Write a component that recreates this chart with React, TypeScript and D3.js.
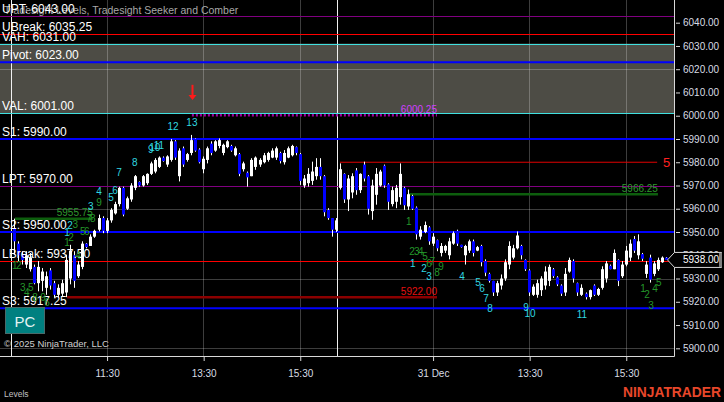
import * as React from 'react';
import * as d3 from 'd3';

// 5 minute bars, day 1 (0-80) and 31 Dec (81-162)
const barOpen = [
  5951.75, 5945, 5940, 5936, 5934, 5935, 5928, 5929, 5926, 5933.5,
  5928, 5923, 5923.5, 5924, 5930, 5940, 5931, 5935, 5945, 5944,
  5948, 5951, 5956, 5950.5, 5955, 5958, 5962, 5969, 5960, 5964,
  5969, 5971.5, 5970, 5971, 5975, 5976, 5978, 5982, 5979, 5981,
  5989, 5974, 5986, 5981, 5984, 5990, 5985.5, 5977, 5981, 5988,
  5985, 5987, 5984, 5986.5, 5987, 5983, 5983.5, 5977, 5975.5, 5974,
  5978, 5979, 5980, 5981, 5982, 5982, 5984, 5980, 5982, 5983,
  5986.5, 5983.5, 5970, 5971, 5972, 5974, 5978, 5974, 5959.5, 5956,
  5951,
  5969, 5975, 5964, 5967, 5976.5, 5968, 5979, 5974, 5959, 5966,
  5970, 5978.5, 5970.5, 5962, 5963, 5965, 5969, 5961, 5965.5, 5960.5,
  5948, 5950, 5952, 5945, 5946.5, 5941, 5942, 5940, 5945, 5950.5,
  5944.5, 5940, 5942, 5946, 5942, 5944, 5937.5, 5932, 5929, 5924,
  5927, 5930, 5936, 5939, 5943, 5944, 5938, 5933.5, 5923, 5923,
  5925, 5927, 5929, 5934, 5930.5, 5927, 5924, 5933, 5937.5, 5928,
  5923, 5923.5, 5922, 5927, 5923, 5926, 5930, 5935.5, 5934, 5938,
  5931, 5936, 5939, 5947, 5940, 5940.5, 5932, 5939, 5932, 5934,
  5937, 5939
];
const barHigh = [
  5955.75, 5946, 5941.75, 5941.75, 5941, 5936, 5937.5, 5934.5, 5933, 5934.5,
  5929, 5927.5, 5929.5, 5940.25, 5944.5, 5941.75, 5937.5, 5946, 5945.25, 5949,
  5951, 5957.5, 5956.75, 5956, 5960.25, 5963, 5969.5, 5969.5, 5965.25, 5971,
  5974.5, 5971.75, 5974.5, 5975.25, 5980.25, 5981.75, 5982.5, 5982.5, 5983, 5990,
  5989.5, 5986, 5986.75, 5984, 5991.75, 5990.25, 5986, 5982.5, 5986.75, 5989,
  5989.5, 5990.25, 5988, 5989.5, 5987.5, 5986.75, 5984, 5980.25, 5976, 5981.75,
  5982.5, 5981.75, 5984, 5984.5, 5986, 5986.75, 5984.5, 5985.25, 5986.75, 5987.5,
  5986.75, 5984, 5974.5, 5977.5, 5980.25, 5981.75, 5981.75, 5974.5, 5960.25, 5956,
  5956,
  5979.5, 5975.25, 5974.5, 5975.25, 5977.5, 5975.25, 5980.25, 5974.5, 5972.5, 5977.5,
  5976.75, 5979, 5971, 5969.5, 5970.25, 5979.5, 5969.5, 5968.25, 5966, 5961,
  5952.5, 5954.5, 5952.5, 5949.5, 5946.75, 5945.25, 5944.5, 5947.5, 5950.25, 5951,
  5944.5, 5944.5, 5946.75, 5946.75, 5944, 5944.5, 5938.25, 5932.5, 5929, 5929,
  5931.75, 5938.25, 5946, 5944.5, 5950.25, 5944.5, 5938.25, 5934, 5927.5, 5929.5,
  5931, 5935.25, 5936, 5934.5, 5931, 5927.5, 5934.5, 5939, 5938.25, 5928.25,
  5927.5, 5924, 5925.25, 5927.5, 5926, 5935.25, 5937.5, 5936, 5942.5, 5938.25,
  5937.5, 5944, 5946.75, 5948.25, 5949, 5941, 5937.5, 5940.25, 5937.5, 5939,
  5939.5, 5939.25
];
const barLow = [
  5940.25, 5937.5, 5936, 5934.5, 5933, 5927.5, 5924.5, 5924.5, 5923, 5925.25,
  5921.75, 5921.75, 5922.5, 5922, 5927.5, 5926, 5930.25, 5934, 5943, 5944,
  5947.5, 5950.25, 5949.5, 5949.5, 5954, 5957.5, 5961, 5956.75, 5959.5, 5963,
  5968, 5969.5, 5969.5, 5970.25, 5974.5, 5975.25, 5977.5, 5980.25, 5978, 5980.25,
  5981, 5971.75, 5978, 5980.25, 5983, 5984.5, 5979.5, 5975.25, 5979.5, 5983,
  5984.5, 5986, 5983, 5986, 5984.5, 5982.5, 5974, 5976, 5969.5, 5974,
  5976.75, 5978, 5979.5, 5980.25, 5981.75, 5981, 5979.5, 5979, 5981.75, 5982.5,
  5983, 5970.25, 5969, 5969.5, 5970.25, 5972.5, 5972.5, 5956.75, 5955.25, 5948,
  5950,
  5968.25, 5962.5, 5959, 5964.5, 5966, 5966.75, 5971.75, 5957.5, 5955.25, 5961.75,
  5969.5, 5969, 5959.5, 5961, 5960.25, 5961.75, 5959.5, 5959.5, 5959.5, 5946.75,
  5946.75, 5949.5, 5944.5, 5944, 5941.75, 5939.5, 5941, 5938.25, 5944.5, 5944,
  5943.25, 5936, 5941, 5939.5, 5941.75, 5935.25, 5931, 5928.25, 5922.5, 5922.5,
  5925.25, 5929, 5934, 5938.25, 5942.5, 5938.25, 5933.25, 5922.5, 5922.5, 5921.75,
  5922.5, 5925.25, 5926.75, 5930.25, 5926.75, 5922.5, 5922.5, 5932.5, 5928.25, 5922.5,
  5922.5, 5921, 5921, 5922.5, 5922.5, 5925.25, 5928.25, 5934, 5934, 5926.75,
  5930.25, 5935.25, 5937.5, 5941, 5938.25, 5937.5, 5930.25, 5928.25, 5931, 5933.25,
  5936.75, 5938.25
];
const barClose = [
  5946, 5940, 5938, 5940, 5939, 5928, 5935, 5933, 5931, 5927,
  5923, 5926, 5928, 5938, 5942, 5929, 5936, 5945, 5943.5, 5948,
  5950.5, 5956, 5950.5, 5955, 5959.5, 5962, 5969, 5957.5, 5964.5, 5970,
  5974, 5970, 5974, 5975, 5979.5, 5981, 5982, 5980.5, 5982.5, 5989,
  5982, 5985, 5979, 5983.5, 5989.5, 5985, 5980, 5981.5, 5986, 5984,
  5989, 5989.5, 5987.5, 5989, 5985, 5986, 5975, 5979.5, 5973.5, 5981,
  5982, 5981, 5983, 5984, 5985, 5986, 5980.5, 5984, 5986, 5987,
  5984, 5972, 5973, 5975, 5976, 5978, 5974, 5958.5, 5956, 5951,
  5955,
  5977, 5964, 5973, 5974, 5968, 5975, 5973, 5960, 5970, 5975,
  5976, 5970, 5963, 5968, 5969, 5975, 5961.5, 5966.25, 5960, 5949,
  5951, 5953, 5946, 5948, 5943, 5944, 5944, 5946, 5949.5, 5945,
  5943.5, 5944, 5946, 5941, 5943.5, 5937, 5932.5, 5929, 5924, 5928,
  5930, 5937, 5944, 5943, 5948.5, 5940, 5934, 5924, 5926.5, 5928,
  5930, 5933, 5935, 5931, 5927.5, 5923.5, 5932, 5938, 5930, 5924,
  5926, 5922, 5925, 5923, 5925.5, 5934, 5936.5, 5934, 5941, 5929,
  5936, 5942, 5945, 5942, 5946, 5938.5, 5936, 5929.5, 5936.5, 5938,
  5939, 5938
];

const timeTickBars = [23, 47, 71, 104, 128, 152];
const timeTickLabels = ['11:30', '13:30', '15:30', '31 Dec', '13:30', '15:30'];
const priceTicks = [5900, 5910, 5920, 5930, 5940, 5950, 5960, 5970, 5980, 5990, 6000, 6010, 6020, 6030, 6040];
const gridPrices = [5900, 5930, 5960, 5990, 6020];
const sessionStartBars = [0, 81];

const levelNames = ['UPT', 'UBreak', 'VAH', 'Pivot', 'VAL', 'S1', 'LPT', 'S2', 'LBreak', 'S3'];
const levelValues = [6043, 6035.25, 6031, 6023, 6001, 5990, 5970, 5950, 5937.5, 5917.25];

const segmentValues = [5955.75, 5922, 6000.25, 5966.25, 5980];
const segmentFromBar = [0.25, 13.2, 44.2, 98.1, 81];
const segmentToBar = [19.6, 105.1, 105.1, 160, 159.8];

const cyanLabels = ['1', '2', '3', '4', '5', '6', '7', '8', '9', '10', '11', '12', '13',
  '1', '2', '3', '4', '5', '6', '7', '8', '9', '10', '11'];
const cyanBars = [13.2, 13.9, 19.1, 21.1, 24.1, 25.1, 26.1, 30, 34, 35, 36, 39.5, 44.2,
  99.1, 101.9, 103.1, 111.3, 115.3, 116.3, 117.3, 118.3, 127.2, 128.2, 141.1];
const cyanPrices = [5950, 5953, 5960.8, 5967.6, 5965, 5968, 5975.4, 5979.7, 5985.3, 5986.2, 5987, 5995.2, 5996.9,
  5936.3, 5934.1, 5930.7, 5930.7, 5928.5, 5925.5, 5921.6, 5917.3, 5917.7, 5915.1, 5914.7];

const greenLabels = ['1', '2', '3', '4', '5', '8', '9', '6',
  '1', '2', '3', '4', '5', '6', '7', '8', '9',
  '1', '2', '3', '4', '5', '6', '7', '8', '9',
  '1', '2', '3', '4', '5'];
const greenBars = [0.2, 1.2, 2.2, 3.2, 4.2, 5.2, 7.2, 8.2,
  13.2, 14.2, 15.2, 15.9, 17.1, 18.1, 18.7, 19.6, 21.1,
  98.1, 98.9, 100.1, 101.1, 102.1, 103.1, 103.9, 105.1, 106.1,
  156.3, 157.3, 158.3, 159.3, 160.2];
const greenPrices = [5935.4, 5935.4, 5926.3, 5924.2, 5926.3, 5922, 5922, 5919.5,
  5945.3, 5947.8, 5953.3, 5940, 5950.2, 5950.2, 5956, 5956, 5962.9,
  5954.6, 5941.8, 5941.8, 5941.8, 5939.3, 5936.6, 5937.5, 5932.8, 5935,
  5925.5, 5923.3, 5918.2, 5925.9, 5928.5];

const signalBar = 44.2;
const signalTop = 6013.3;
const signalBottom = 6006.8;
const lastPrice = 5938;

const FONT = '"Liberation Sans", Arial, sans-serif';

export default class App extends React.Component {
  public componentDidMount() {
    this.drawChart();
  }

  private drawChart = () => {
    const width = 724;
    const height = 402;
    const plotRight = 674;
    const plotBottom = 356;

    const svg = d3.select('#ninja-chart').attr('width', width).attr('height', height);
    svg.selectAll('*').remove();

    const x = d3.scaleLinear().domain([0, 162]).range([14, 666]);
    const y = d3.scaleLinear().domain([5900, 6040]).range([348.3, 22.7]);

    svg.append('rect').attr('width', width).attr('height', height).attr('fill', '#000');

    // value area fill
    svg.append('rect')
      .attr('x', 0).attr('width', plotRight)
      .attr('y', y(6031)).attr('height', y(6001) - y(6031))
      .attr('fill', '#4d4c45');

    // grid
    svg.append('g').selectAll('line').data(gridPrices).join('line')
      .attr('x1', 0).attr('x2', plotRight)
      .attr('y1', d => Math.round(y(d)) + 0.5).attr('y2', d => Math.round(y(d)) + 0.5)
      .attr('stroke', '#fff').attr('stroke-opacity', 0.24);
    svg.append('g').selectAll('line').data(timeTickBars).join('line')
      .attr('x1', d => Math.round(x(d)) + 0.5).attr('x2', d => Math.round(x(d)) + 0.5)
      .attr('y1', 0).attr('y2', plotBottom)
      .attr('stroke', '#fff').attr('stroke-opacity', 0.24);

    // session breaks
    svg.append('g').selectAll('line').data(sessionStartBars).join('line')
      .attr('x1', d => Math.round(x(d) - 3.5) + 0.5).attr('x2', d => Math.round(x(d) - 3.5) + 0.5)
      .attr('y1', 0).attr('y2', plotBottom)
      .attr('stroke', '#f0f0f0');

    const levelColor = {
      UPT: '#800080', LPT: '#800080',
      UBreak: '#ff0000', LBreak: '#ff0000',
      VAH: '#40e0e0', VAL: '#40e0e0',
      Pivot: '#0000ff', S1: '#0000ff', S2: '#0000ff', S3: '#0000ff'
    };

    const levels = svg.append('g');
    levelNames.forEach((name, i) => {
      const yy = y(levelValues[i]);
      const isBlue = levelColor[name] === '#0000ff';
      levels.append('line')
        .attr('x1', 0).attr('x2', plotRight)
        .attr('y1', isBlue ? yy : Math.round(yy) + 0.5)
        .attr('y2', isBlue ? yy : Math.round(yy) + 0.5)
        .attr('stroke', levelColor[name])
        .attr('stroke-width', isBlue ? 2 : 1);
    });

    // partial lines
    const segStyle = [
      {stroke: '#0d5e0d', width: 2.5, dash: null, text: '#2e9a2e', label: '5955.75'},
      {stroke: '#8b0000', width: 2.5, dash: null, text: '#e81010', label: '5922.00'},
      {stroke: '#a000a0', width: 2.5, dash: '2,2', text: '#d040ff', label: '6000.25'},
      {stroke: '#0d5e0d', width: 2.5, dash: null, text: '#2e9a2e', label: '5966.25'},
      {stroke: '#e00000', width: 1, dash: null, text: '#ff2020', label: ''}
    ];
    const segs = svg.append('g');
    segmentValues.forEach((v, i) => {
      const s = segStyle[i];
      segs.append('line')
        .attr('x1', x(segmentFromBar[i])).attr('x2', x(segmentToBar[i]))
        .attr('y1', y(v)).attr('y2', y(v))
        .attr('stroke', s.stroke).attr('stroke-width', s.width)
        .attr('stroke-dasharray', s.dash);
    });

    // candles
    const bars = svg.append('g');
    barOpen.forEach((o, i) => {
      const c = barClose[i];
      const cx = Math.round(x(i));
      const up = c >= o;
      bars.append('line')
        .attr('x1', cx + 0.5).attr('x2', cx + 0.5)
        .attr('y1', y(barHigh[i])).attr('y2', y(barLow[i]))
        .attr('stroke', '#fff').attr('stroke-width', 1);
      bars.append('rect')
        .attr('x', cx - 1).attr('width', 3)
        .attr('y', y(Math.max(o, c)))
        .attr('height', Math.max(1, Math.abs(y(o) - y(c))))
        .attr('fill', up ? '#fff' : '#0000ff');
    });

    // segment labels
    segmentValues.forEach((v, i) => {
      const s = segStyle[i];
      if (!s.label) return;
      segs.append('text')
        .attr('x', x(segmentToBar[i])).attr('y', y(v) - 2.5)
        .attr('text-anchor', 'end')
        .attr('font-family', FONT).attr('font-size', 10)
        .attr('fill', s.text)
        .text(s.label);
    });
    svg.append('text')
      .attr('x', 663).attr('y', y(5980) + 5)
      .attr('font-family', FONT).attr('font-size', 13)
      .attr('fill', '#ff2020')
      .text('5');

    // level labels
    svg.append('text')
      .attr('x', 4).attr('y', 14)
      .attr('font-family', FONT).attr('font-size', 10.5)
      .attr('fill', '#a8a8a8')
      .text('Tradesight Levels, Tradesight Seeker and Comber');
    levelNames.forEach((name, i) => {
      svg.append('text')
        .attr('x', 2).attr('y', y(levelValues[i]) - 3)
        .attr('font-family', FONT).attr('font-size', 12)
        .attr('fill', '#fff')
        .text(`${name}: ${d3.format('.2f')(levelValues[i])}`);
    });

    // sequence counts
    svg.append('g').selectAll('text').data(greenLabels).join('text')
      .attr('x', (d, i) => x(greenBars[i])).attr('y', (d, i) => y(greenPrices[i]))
      .attr('text-anchor', 'middle').attr('dominant-baseline', 'central')
      .attr('font-family', FONT).attr('font-size', 10)
      .attr('fill', '#24962a')
      .text(d => d);
    svg.append('g').selectAll('text').data(cyanLabels).join('text')
      .attr('x', (d, i) => x(cyanBars[i])).attr('y', (d, i) => y(cyanPrices[i]))
      .attr('text-anchor', 'middle').attr('dominant-baseline', 'central')
      .attr('font-family', FONT).attr('font-size', 10)
      .attr('fill', '#30d8e0')
      .text(d => d);

    // sell signal arrow
    const ax = Math.round(x(signalBar)) + 0.5;
    const aTop = y(signalTop);
    const aBot = y(signalBottom);
    svg.append('line')
      .attr('x1', ax).attr('x2', ax).attr('y1', aTop).attr('y2', aBot - 4)
      .attr('stroke', '#ff1a1a').attr('stroke-width', 2);
    svg.append('path')
      .attr('d', `M${ax - 4},${aBot - 5}L${ax + 4},${aBot - 5}L${ax},${aBot}Z`)
      .attr('fill', '#ff1a1a');

    // axes
    svg.append('line')
      .attr('x1', plotRight + 0.5).attr('x2', plotRight + 0.5)
      .attr('y1', 0).attr('y2', plotBottom + 0.5)
      .attr('stroke', '#d8d8d8');
    svg.append('line')
      .attr('x1', 0).attr('x2', plotRight + 0.5)
      .attr('y1', plotBottom + 0.5).attr('y2', plotBottom + 0.5)
      .attr('stroke', '#d8d8d8');

    const yAxis = svg.append('g')
      .attr('transform', `translate(${plotRight + 2}, 0)`)
      .call(d3.axisRight(y).tickValues(priceTicks).tickFormat(d3.format('.2f')).tickSize(4).tickPadding(3));
    yAxis.select('.domain').remove();
    yAxis.selectAll('line').attr('stroke', '#d8d8d8');
    yAxis.selectAll('text').attr('fill', '#d8dce4').attr('font-family', FONT).attr('font-size', 10);

    const xAxis = svg.append('g')
      .attr('transform', `translate(0.5, ${plotBottom})`)
      .call(d3.axisBottom(x).tickValues(timeTickBars)
        .tickFormat((d, i) => timeTickLabels[i]).tickSize(5).tickPadding(9));
    xAxis.select('.domain').remove();
    xAxis.selectAll('line').attr('stroke', '#d8d8d8');
    xAxis.selectAll('text').attr('fill', '#d8dce4').attr('font-family', FONT).attr('font-size', 10);

    // last price marker
    const ly = y(lastPrice);
    svg.append('path')
      .attr('d', `M667.5,${ly}L674.5,${ly - 7.5}L721.5,${ly - 7.5}L721.5,${ly + 7.5}L674.5,${ly + 7.5}Z`)
      .attr('fill', '#000').attr('stroke', '#d8d8d8');
    svg.append('rect')
      .attr('x', 719).attr('y', ly - 7).attr('width', 3).attr('height', 14)
      .attr('fill', '#808080');
    svg.append('text')
      .attr('x', 683).attr('y', ly).attr('dominant-baseline', 'central')
      .attr('font-family', FONT).attr('font-size', 10)
      .attr('fill', '#fff')
      .text(d3.format('.2f')(lastPrice));

    // PC button
    svg.append('rect')
      .attr('x', 5.5).attr('y', 307.5).attr('width', 39).attr('height', 26)
      .attr('fill', '#008080').attr('stroke', '#4a6a6a');
    svg.append('text')
      .attr('x', 25).attr('y', 321).attr('text-anchor', 'middle').attr('dominant-baseline', 'central')
      .attr('font-family', FONT).attr('font-size', 15)
      .attr('fill', '#e6f4f4')
      .text('PC');

    svg.append('text')
      .attr('x', 4).attr('y', 346.5)
      .attr('font-family', FONT).attr('font-size', 9.5)
      .attr('fill', '#d0d0d0')
      .text('\u00a9 2025 NinjaTrader, LLC');

    svg.append('text')
      .attr('x', 4).attr('y', 397)
      .attr('font-family', FONT).attr('font-size', 8.5)
      .attr('fill', '#c0c0c0')
      .text('Levels');

    svg.append('text')
      .attr('x', 623).attr('y', 397)
      .attr('font-family', FONT).attr('font-size', 14).attr('font-weight', 'bold')
      .attr('textLength', 98).attr('lengthAdjust', 'spacingAndGlyphs')
      .attr('fill', '#e8472a')
      .text('NINJATRADER');
  };

  public render() {
    return (
      <div className='ninja-chart'>
        <svg id='ninja-chart' style={{position: 'absolute', left: 0, top: 0, display: 'block'}} />
      </div>
    );
  }
}
